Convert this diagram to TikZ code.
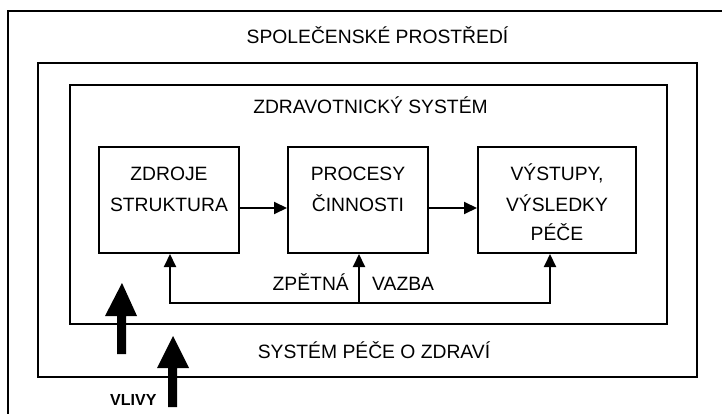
\documentclass[tikz,border=0pt]{standalone}
\usepackage{fontspec}
\setmainfont{Liberation Sans}
\usetikzlibrary{arrows.meta}
\begin{document}
\begin{tikzpicture}[x=1pt,y=-1pt,
  frame/.style={draw, line width=2pt},
  box/.style={draw, line width=2pt, minimum height=106pt, inner sep=0pt},
  lbl/.style={font=\fontsize{19.3}{22}\selectfont, inner sep=0pt, anchor=base},
  flow/.style={line width=2pt, -{Triangle[length=13pt,width=12pt]}},
  big/.style={fill=black}
]
\useasboundingbox (0,0) rectangle (722,414);
\clip (0,0) rectangle (722,414);
% frames
\draw[frame] (8,430) -- (8,11) -- (740,11);
\draw[frame] (38,63) rectangle (697,377);
\draw[frame] (70,85) rectangle (667,324);
% frame titles
\node[lbl] (spol) at (377.5,44) {SPOLEČENSKÉ PROSTŘEDÍ};
\node[lbl] (zdrsys) at (370.5,114) {ZDRAVOTNICKÝ SYSTÉM};
\node[lbl] (pece) at (374,358) {SYSTÉM PÉČE O ZDRAVÍ};
% boxes
\node[box, minimum width=140pt] (b1) at (169,200) {};
\node[box, minimum width=140pt] (b2) at (358,200) {};
\node[box, minimum width=158pt] (b3) at (557,200) {};
\node[lbl] (t1a) at (169,181) {ZDROJE};
\node[lbl] (t1b) at (169,211) {STRUKTURA};
\node[lbl] (t2a) at (358,181) {PROCESY};
\node[lbl] (t2b) at (358,211) {ČINNOSTI};
\node[lbl] (t3a) at (557,181) {VÝSTUPY,};
\node[lbl] (t3b) at (557,211) {VÝSLEDKY};
\node[lbl] (t3c) at (557,240) {PÉČE};
% flow arrows
\draw[flow] ([yshift=-8pt]b1.east) -- ([yshift=-8pt]b2.west);
\draw[flow] ([yshift=-8pt]b2.east) -- ([yshift=-8pt]b3.west);
% feedback
\coordinate (fb) at (359,303);
\draw[flow] (fb) -- (fb |- b2.south);
\draw[flow] (fb) -| ([xshift=1pt]b1.south);
\draw[flow] (fb) -| ([xshift=-7pt]b3.south);
\node[lbl, anchor=base east] (zpet) at (349,290) {ZPĚTNÁ};
\node[lbl, anchor=base west] (vaz) at (372,290) {VAZBA};
% influence arrows
\fill[big] (117,354) -- (117,316) -- (105,316) -- (122,283) -- (137,316) -- (126,316) -- (126,354) -- cycle;
\fill[big] (168,407) -- (168,368) -- (157,368) -- (173,336) -- (189,368) -- (177,368) -- (177,407) -- cycle;
\node[font=\bfseries\fontsize{16}{18}\selectfont, inner sep=0pt, anchor=base west] (vlivy) at (110,405) {VLIVY};
\end{tikzpicture}
\end{document}
